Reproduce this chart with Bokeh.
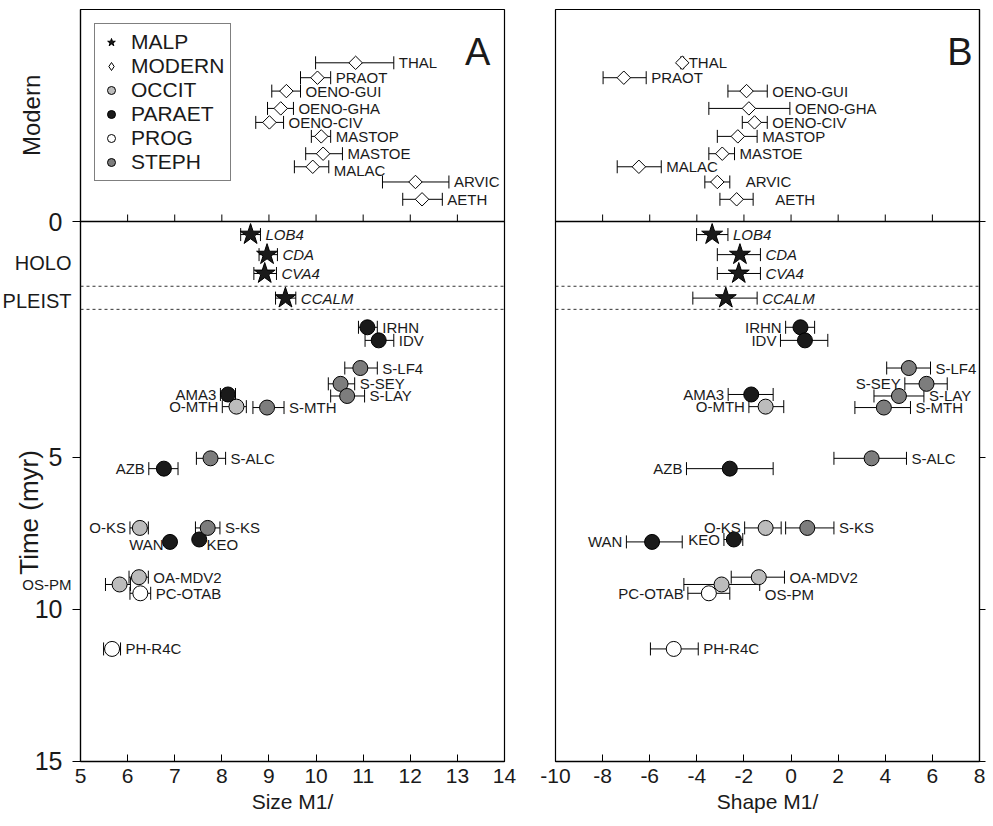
import numpy as np
from bokeh.plotting import figure
from bokeh.models import (Range1d, FixedTicker, ColumnDataSource, Whisker, TeeHead,
                          LabelSet, Label, Span, Legend, LegendItem, LinearAxis)
from bokeh.layouts import row
from bokeh.embed import file_html
from bokeh.resources import INLINE
from bokeh.core.properties import value

# ---------------- data ----------------
names = ["THAL", "PRAOT", "OENO-GUI", "OENO-GHA", "OENO-CIV", "MASTOP", "MASTOE", "MALAC", "ARVIC", "AETH",
         "LOB4", "CDA", "CVA4", "CCALM",
         "IRHN", "IDV", "S-LF4", "S-SEY", "S-LAY", "AMA3", "O-MTH", "S-MTH",
         "S-ALC", "AZB", "O-KS", "S-KS", "WAN", "KEO", "OA-MDV2", "OS-PM", "PC-OTAB", "PH-R4C"]
groups = ["MODERN"] * 10 + ["MALP"] * 4 + \
         ["PARAET", "PARAET", "STEPH", "STEPH", "STEPH", "PARAET", "OCCIT", "STEPH",
          "STEPH", "PARAET", "OCCIT", "STEPH", "PARAET", "PARAET", "OCCIT", "OCCIT", "PROG", "PROG"]
# vertical position on the time axis (0 = present; modern taxa above, fossils below)
ypos = [-5.22, -4.73, -4.29, -3.72, -3.26, -2.80, -2.23, -1.80, -1.30, -0.73,
        0.43, 1.09, 1.71, 2.52,
        3.48, 3.91, 4.82, 5.34, 5.74, 5.69, 6.09, 6.12,
        7.79, 8.13, 10.08, 10.08, 10.54, 10.46, 11.70, 11.94, 12.23, 14.06]
size_mean = [10.84, 10.03, 9.37, 9.25, 9.01, 10.11, 10.15, 9.93, 12.11, 12.25,
             8.61, 8.96, 8.91, 9.35,
             11.09, 11.33, 10.94, 10.52, 10.66, 8.13, 8.31, 8.96,
             7.76, 6.77, 6.26, 7.70, 6.90, 7.52, 6.24, 5.83, 6.27, 5.67]
size_lo = [9.99, 9.67, 9.06, 8.97, 8.72, 9.90, 9.78, 9.54, 11.41, 11.84,
           8.40, 8.79, 8.68, 9.14,
           10.90, 11.04, 10.61, 10.26, 10.31, 7.97, 8.01, 8.66,
           7.46, 6.45, 6.05, 7.44, 6.85, 7.47, 6.03, 5.53, 6.05, 5.49]
size_hi = [11.65, 10.31, 9.67, 9.52, 9.31, 10.31, 10.56, 10.27, 12.82, 12.68,
           8.82, 9.18, 9.16, 9.57,
           11.30, 11.65, 11.30, 10.82, 11.03, 8.29, 8.52, 9.32,
           8.08, 7.07, 6.44, 7.96, 6.95, 7.57, 6.44, 6.06, 6.49, 5.85]
shape_mean = [-4.62, -7.10, -1.89, -1.79, -1.55, -2.26, -2.92, -6.46, -3.13, -2.31,
              -3.35, -2.17, -2.22, -2.77,
              0.40, 0.59, 5.00, 5.75, 4.58, -1.69, -1.08, 3.94,
              3.42, -2.60, -1.08, 0.69, -5.90, -2.43, -1.37, -2.95, -3.49, -4.98]
shape_lo = [-4.68, -7.98, -2.68, -3.49, -2.07, -3.13, -3.49, -7.38, -3.66, -3.02,
            -4.01, -3.13, -3.13, -4.17,
            -0.23, -0.45, 4.06, 4.83, 3.52, -2.67, -1.79, 2.71,
            1.82, -4.44, -1.97, -0.23, -6.99, -2.85, -2.54, -4.55, -4.38, -5.97]
shape_hi = [-4.56, -6.15, -1.01, -0.05, -1.01, -1.44, -2.40, -5.51, -2.60, -1.61,
            -2.68, -1.30, -1.30, -1.44,
            1.00, 1.56, 5.92, 6.63, 5.64, -0.76, -0.31, 5.07,
            4.90, -0.76, -0.42, 1.82, -4.62, -2.05, -0.28, -1.33, -2.60, -3.94]

legend_order = ["MALP", "MODERN", "OCCIT", "PARAET", "PROG", "STEPH"]
size_ticks = list(range(5, 15))
shape_ticks = list(range(-10, 9, 2))
time_tick_pos = [0, 7.76, 12.76, 17.76]
time_tick_lab = ["0", "5", "10", "15"]
epoch_names = ["HOLO", "PLEIST"]
epoch_label_pos = [1.35, 2.62]
epoch_bounds = [2.13, 2.89]
section_name = "Modern"
section_pos = -3.49
time_title = "Time (myr)"
time_title_pos = 9.57

# ---------------- styles ----------------
FONT = "Liberation Sans"
INK = "#1a1a1a"
style = {
    "MALP":   dict(marker="star", size=22, fill_color="#1a1a1a", angle=0.0),
    "MODERN": dict(marker="square", size=9.5, fill_color="white", angle=np.pi / 4),
    "OCCIT":  dict(marker="circle", size=15, fill_color="#bcbcbc", angle=0.0),
    "PARAET": dict(marker="circle", size=15, fill_color="#1a1a1a", angle=0.0),
    "PROG":   dict(marker="circle", size=15, fill_color="white", angle=0.0),
    "STEPH":  dict(marker="circle", size=15, fill_color="#7d7d7d", angle=0.0),
}
left_A = {"AMA3", "O-MTH", "AZB", "O-KS", "WAN", "OS-PM"}
outside_A = {"OS-PM"}          # label sits left of the panel frame
left_B = {"IRHN", "IDV", "AMA3", "O-MTH", "AZB", "O-KS", "WAN", "KEO", "PC-OTAB", "S-SEY"}
dy_A = {"MALAC": 4, "KEO": 5, "WAN": 3}
dy_B = {"OS-PM": 10}
dx_B = {"ARVIC": 11, "AETH": 17}
italic = {"LOB4", "CDA", "CVA4", "CCALM"}

H = 824
TOP = 9
BOT = 63
PXU = 30.4                      # pixels per unit of the time axis
ZERO_PX = 221                   # page row of time 0
YR = ((H - BOT - ZERO_PX) / PXU, -(ZERO_PX - TOP) / PXU)


def make_panel(xr, xticks, mean, lo, hi, left_set, skip, dys, dxs, xlabel, width, bl, br, letter, letter_x):
    p = figure(width=width, height=H, x_range=Range1d(*xr), y_range=Range1d(*YR),
               output_backend="svg", toolbar_location=None,
               min_border_left=bl, min_border_right=br, min_border_top=TOP, min_border_bottom=BOT)
    p.grid.visible = False
    p.outline_line_color = "black"
    p.outline_line_width = 1.2
    p.background_fill_color = "white"

    xa = p.xaxis[0]
    xa.ticker = FixedTicker(ticks=xticks)
    xa.major_label_overrides = {t: str(t) for t in xticks}
    xa.minor_tick_line_color = None
    xa.major_tick_in = 7
    xa.major_tick_out = 0
    xa.major_label_standoff = 7
    xa.major_label_text_font = FONT
    xa.major_label_text_font_size = "21px"
    xa.major_label_text_color = INK
    xa.axis_label = xlabel
    xa.axis_label_text_font = FONT
    xa.axis_label_text_font_style = "normal"
    xa.axis_label_text_font_size = "21px"
    xa.axis_label_text_color = INK
    xa.axis_label_standoff = 4
    xa.axis_line_width = 1.6

    # zero line with its tick marks
    p.add_layout(Span(location=0, dimension="width", line_color="black", line_width=1.5))
    p.segment(x0=xticks, y0=[0] * len(xticks), x1=xticks, y1=[-0.23] * len(xticks),
              line_color="black", line_width=1)
    for b in epoch_bounds:
        p.add_layout(Span(location=b, dimension="width", line_color="#333333",
                          line_width=1, line_dash="3 3"))

    src = ColumnDataSource(dict(y=ypos, lo=lo, hi=hi))
    p.add_layout(Whisker(source=src, base="y", lower="lo", upper="hi", dimension="width",
                         line_color="black", line_width=1,
                         lower_head=TeeHead(size=13, line_color="black", line_width=1),
                         upper_head=TeeHead(size=13, line_color="black", line_width=1)))

    rends = {}
    for g in legend_order:
        idx = [i for i, gg in enumerate(groups) if gg == g]
        s = style[g]
        rends[g] = p.scatter(x=[mean[i] for i in idx], y=[ypos[i] for i in idx],
                             marker=s["marker"], size=s["size"], angle=s["angle"],
                             fill_color=s["fill_color"], line_color="black", line_width=1)

    # specimen labels: "before" = to the left of the bar, "after" = to the right
    for side in ("before", "after"):
        for fs in ("normal", "italic"):
            xs, ys, ts, xo, yo = [], [], [], [], []
            for i, n in enumerate(names):
                if n in skip:
                    continue
                is_left = n in left_set
                if (side == "before") != is_left:
                    continue
                if (fs == "italic") != (n in italic):
                    continue
                xs.append(lo[i] if is_left else hi[i])
                ys.append(ypos[i])
                ts.append(n)
                xo.append((-4 if is_left else 5) + dxs.get(n, 0))
                yo.append(-dys.get(n, 0))
            if not ts:
                continue
            ls = ColumnDataSource(dict(x=xs, y=ys, t=ts, xo=xo, yo=yo))
            p.add_layout(LabelSet(source=ls, x="x", y="y", text="t", x_offset="xo", y_offset="yo",
                                  text_align=value("right" if side == "before" else "left"),
                                  text_baseline=value("middle"),
                                  text_font=value(FONT), text_font_size=value("15px"),
                                  text_font_style=value(fs), text_color=value(INK)))
    p.add_layout(Label(x=letter_x, y=-5.58, text=letter, text_align="right",
                       text_baseline="alphabetic", text_font=FONT, text_font_size="38px",
                       text_color=INK))
    return p, rends


pA, rA = make_panel((5, 14), size_ticks, size_mean, size_lo, size_hi, left_A, outside_A, dy_A, {},
                    "Size M1/", 453, 8, 21, "A", 13.70)
pB, rB = make_panel((-10, 8), shape_ticks, shape_mean, shape_lo, shape_hi, left_B, set(), dy_B, dx_B,
                    "Shape M1/", 464, 30, 10, "B", 7.71)

# panel A y axis: tick marks only (labels live in the gutter figure)
ya = pA.yaxis[0]
ya.ticker = FixedTicker(ticks=time_tick_pos)
ya.minor_tick_line_color = None
ya.major_tick_out = 8
ya.major_tick_in = 0
ya.major_label_standoff = 0
ya.major_label_text_font_size = "1px"
ya.major_label_text_color = None
ya.axis_line_width = 1.2

# panel B: right axis with ticks only
pB.yaxis.visible = False
ra = LinearAxis(ticker=FixedTicker(ticks=time_tick_pos), major_label_text_font_size="1px",
                major_label_text_color=None,
                major_label_standoff=0, major_tick_out=6, major_tick_in=0,
                minor_tick_line_color=None, axis_line_width=1.2)
pB.add_layout(ra, "right")

# legend (MODERN entry drawn by a hidden diamond renderer of the same taxa)
mod_idx = [i for i, g in enumerate(groups) if g == "MODERN"]
leg_modern = pA.scatter(x=[size_mean[i] for i in mod_idx], y=[ypos[i] for i in mod_idx],
                        marker="diamond", size=13, fill_color="white",
                        line_color="black", line_width=1, visible=False)
leg_r = dict(rA)
leg_r["MODERN"] = leg_modern
legend = Legend(items=[LegendItem(label=g, renderers=[leg_r[g]]) for g in legend_order],
                location="top_left", margin=14, padding=6, spacing=0,
                glyph_width=20, glyph_height=24, label_height=24, label_standoff=10,
                label_text_font=FONT, label_text_font_size="21px", label_text_color=INK,
                border_line_color="black", border_line_width=1, background_fill_alpha=1,
                inactive_fill_alpha=0)
pA.add_layout(legend)

# gutter figure on the left that carries the time-axis texts
GW = 72
pG = figure(width=GW, height=H, x_range=Range1d(0, GW),
            y_range=Range1d((H - ZERO_PX) / PXU, -ZERO_PX / PXU),
            output_backend="svg", toolbar_location=None,
            min_border_left=0, min_border_right=0, min_border_top=0, min_border_bottom=0)
pG.frame_align = False
pG.axis.visible = False
pG.grid.visible = False
pG.outline_line_color = None
pG.text(x=[62] * len(time_tick_pos), y=time_tick_pos, text=time_tick_lab,
        text_align="right", text_baseline="middle", text_font=value(FONT),
        text_font_size="25px", text_color=INK)
pG.text(x=[71] * len(epoch_names), y=epoch_label_pos, text=epoch_names,
        text_align="right", text_baseline="middle", text_font=value(FONT),
        text_font_size="20px", text_color=INK)
pG.text(x=[31], y=[section_pos], text=[section_name], angle=np.pi / 2,
        text_align="center", text_baseline="middle", text_font=value(FONT),
        text_font_size="24px", text_color=INK)
pG.text(x=[28], y=[time_title_pos], text=[time_title], angle=np.pi / 2,
        text_align="center", text_baseline="middle", text_font=value(FONT),
        text_font_size="26px", text_color=INK)
# panel-A labels that lie left of the frame
out_idx = [names.index(n) for n in names if n in outside_A]
pG.text(x=[71] * len(out_idx), y=[ypos[i] for i in out_idx], text=[names[i] for i in out_idx],
        text_align="right", text_baseline="middle", text_font=value(FONT),
        text_font_size="15px", text_color=INK)

layout = row(pG, pA, pB)
open("out.html", "w").write(file_html(layout, INLINE))
